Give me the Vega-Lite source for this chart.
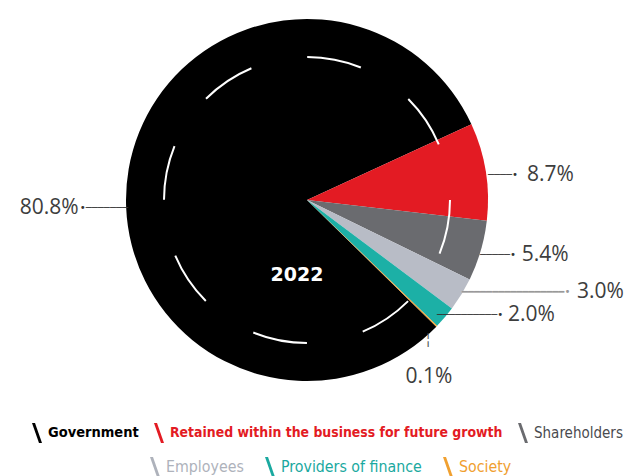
{
  "$schema": "https://vega.github.io/schema/vega-lite/v6.json",
  "width": 614,
  "height": 400,
  "autosize": {"type": "none"},
  "padding": {"left": 0, "top": 0, "right": 16, "bottom": 76},
  "background": "white",
  "config": {"view": {"stroke": null}},
  "datasets": {
    "slices": [
      {"category": "Government", "share": 0.808},
      {"category": "Retained within the business for future growth", "share": 0.087},
      {"category": "Shareholders", "share": 0.054},
      {"category": "Employees", "share": 0.030},
      {"category": "Providers of finance", "share": 0.020},
      {"category": "Society", "share": 0.001}
    ],
    "year": [{"year": "2022"}]
  },
  "data": {"name": "slices"},
  "layer": [
    {
      "mark": {"type": "arc", "outerRadius": 181, "innerRadius": 0},
      "encoding": {
        "theta": {"field": "share", "type": "quantitative", "stack": true, "scale": {"range": [2.3457, 8.6289]}},
        "order": {"field": "share", "type": "quantitative", "sort": "descending"},
        "fill": {
          "field": "category", "type": "nominal",
          "scale": {
            "domain": ["Government", "Retained within the business for future growth", "Shareholders", "Employees", "Providers of finance", "Society"],
            "range": ["#000000", "#e31b23", "#6a6b6f", "#b8bcc6", "#1cb0a6", "#f0a030"]
          },
          "legend": {
            "values": ["Government", "Retained within the business for future growth", "Shareholders"],
            "title": null, "orient": "none", "legendX": 27, "legendY": 423,
            "direction": "horizontal", "padding": 0,
            "symbolType": "M-0.5,-1L-0.2,-1L0.5,1L0.2,1Z", "symbolSize": 400, "symbolStrokeWidth": 0,
            "labelFont": "'DejaVu Sans Condensed', 'Liberation Sans Narrow', sans-serif",
            "labelFontSize": {"expr": "datum.value === 'Government' ? 14.5 : datum.value === 'Shareholders' ? 15 : 13.9"},
            "labelOffset": 1, "columnPadding": 10, "labelLimit": 0,
            "labelColor": {"expr": "datum.value === 'Shareholders' ? '#4a4b4f' : scale('fill', datum.value)"},
            "labelFontWeight": {"expr": "datum.value === 'Shareholders' ? 'normal' : 'bold'"}
          }
        }
      }
    },
    {
      "transform": [{"filter": {"field": "category", "oneOf": ["Employees", "Providers of finance", "Society"]}}],
      "mark": {"type": "point", "filled": true, "opacity": 0, "size": 1},
      "encoding": {
        "color": {
          "field": "category", "type": "nominal",
          "scale": {
            "domain": ["Employees", "Providers of finance", "Society"],
            "range": ["#aeb2bb", "#1aa9a0", "#f0a030"]
          },
          "legend": {
            "title": null, "orient": "none", "legendX": 145, "legendY": 457,
            "direction": "horizontal", "padding": 0, "symbolOpacity": 1,
            "symbolType": "M-0.5,-1L-0.2,-1L0.5,1L0.2,1Z", "symbolSize": 400, "symbolStrokeWidth": 0,
            "labelFont": "'DejaVu Sans Condensed', 'Liberation Sans Narrow', sans-serif",
            "labelFontSize": 15.8, "labelOffset": 1, "columnPadding": 16, "labelLimit": 0,
            "labelColor": {"expr": "scale('color', datum.value)"}
          }
        }
      }
    },
    {
      "data": {"name": "year"},
      "mark": {"type": "point", "shape": "circle", "filled": false, "size": 81796, "stroke": "white", "strokeWidth": 2, "strokeDash": [55, 57.3], "opacity": 1},
      "encoding": {}
    },
    {
      "data": {"name": "year"},
      "mark": {"type": "text", "dx": -10, "dy": 75, "font": "DejaVu Sans", "fontWeight": "bold", "fontSize": 19, "color": "white", "align": "center", "baseline": "middle"},
      "encoding": {"text": {"field": "year", "type": "nominal"}}
    },
    {
      "mark": {"type": "text", "radius": 181, "align": "right", "baseline": "middle", "dx": -0.7, "dy": 39, "font": "DejaVu Sans Mono", "fontSize": 10, "color": "#333333"},
      "encoding": {
        "theta": {"field": "share", "type": "quantitative", "stack": true},
        "order": {"field": "share", "type": "quantitative", "sort": "descending"},
        "text": {"condition": {"test": "datum.category === 'Government'", "value": "•───────"}, "value": ""}
      }
    },
    {
      "mark": {"type": "text", "radius": 181, "align": "right", "baseline": "middle", "dx": -50, "dy": 39, "font": "Open Sans", "fontSize": 21, "color": "#3d3d3d"},
      "encoding": {
        "theta": {"field": "share", "type": "quantitative", "stack": true},
        "order": {"field": "share", "type": "quantitative", "sort": "descending"},
        "text": {"condition": {"test": "datum.category === 'Government'", "field": "share", "type": "quantitative", "format": ".1%"}, "value": ""}
      }
    },
    {
      "mark": {"type": "text", "radius": 181, "align": "left", "baseline": "middle", "dx": 2.3, "dy": 3.5, "font": "DejaVu Sans Mono", "fontSize": 10, "color": "#333333"},
      "encoding": {
        "theta": {"field": "share", "type": "quantitative", "stack": true},
        "order": {"field": "share", "type": "quantitative", "sort": "descending"},
        "text": {"condition": {"test": "datum.category === 'Retained within the business for future growth'", "value": "────•"}, "value": ""}
      }
    },
    {
      "mark": {"type": "text", "radius": 181, "align": "left", "baseline": "middle", "dx": 41.3, "dy": 3.5, "font": "Open Sans", "fontSize": 21, "color": "#3d3d3d"},
      "encoding": {
        "theta": {"field": "share", "type": "quantitative", "stack": true},
        "order": {"field": "share", "type": "quantitative", "sort": "descending"},
        "text": {"condition": {"test": "datum.category === 'Retained within the business for future growth'", "field": "share", "type": "quantitative", "format": ".1%"}, "value": ""}
      }
    },
    {
      "mark": {"type": "text", "radius": 181, "align": "left", "baseline": "middle", "dx": -0.7, "dy": 4, "font": "DejaVu Sans Mono", "fontSize": 10, "color": "#333333"},
      "encoding": {
        "theta": {"field": "share", "type": "quantitative", "stack": true},
        "order": {"field": "share", "type": "quantitative", "sort": "descending"},
        "text": {"condition": {"test": "datum.category === 'Shareholders'", "value": "─────•"}, "value": ""}
      }
    },
    {
      "mark": {"type": "text", "radius": 181, "align": "left", "baseline": "middle", "dx": 41, "dy": 4, "font": "Open Sans", "fontSize": 21, "color": "#3d3d3d"},
      "encoding": {
        "theta": {"field": "share", "type": "quantitative", "stack": true},
        "order": {"field": "share", "type": "quantitative", "sort": "descending"},
        "text": {"condition": {"test": "datum.category === 'Shareholders'", "field": "share", "type": "quantitative", "format": ".1%"}, "value": ""}
      }
    },
    {
      "mark": {"type": "text", "radius": 181, "align": "left", "baseline": "middle", "dx": 0.6, "dy": -2.4, "font": "DejaVu Sans Mono", "fontSize": 10, "color": "#999999"},
      "encoding": {
        "theta": {"field": "share", "type": "quantitative", "stack": true},
        "order": {"field": "share", "type": "quantitative", "sort": "descending"},
        "text": {"condition": {"test": "datum.category === 'Employees'", "value": "━━━━━━━━━━━━━━━━━•"}, "value": ""}
      }
    },
    {
      "mark": {"type": "text", "radius": 181, "align": "left", "baseline": "middle", "dx": 115.6, "dy": -2.4, "font": "Open Sans", "fontSize": 21, "color": "#3d3d3d"},
      "encoding": {
        "theta": {"field": "share", "type": "quantitative", "stack": true},
        "order": {"field": "share", "type": "quantitative", "sort": "descending"},
        "text": {"condition": {"test": "datum.category === 'Employees'", "field": "share", "type": "quantitative", "format": ".1%"}, "value": ""}
      }
    },
    {
      "mark": {"type": "text", "radius": 181, "align": "left", "baseline": "middle", "dx": -7.8, "dy": -2.3, "font": "DejaVu Sans Mono", "fontSize": 10, "color": "#333333"},
      "encoding": {
        "theta": {"field": "share", "type": "quantitative", "stack": true},
        "order": {"field": "share", "type": "quantitative", "sort": "descending"},
        "text": {"condition": {"test": "datum.category === 'Providers of finance'", "value": "──────────•"}, "value": ""}
      }
    },
    {
      "mark": {"type": "text", "radius": 181, "align": "left", "baseline": "middle", "dx": 63.2, "dy": -2.3, "font": "Open Sans", "fontSize": 21, "color": "#3d3d3d"},
      "encoding": {
        "theta": {"field": "share", "type": "quantitative", "stack": true},
        "order": {"field": "share", "type": "quantitative", "sort": "descending"},
        "text": {"condition": {"test": "datum.category === 'Providers of finance'", "field": "share", "type": "quantitative", "format": ".1%"}, "value": ""}
      }
    },
    {
      "mark": {"type": "text", "radius": 181, "align": "center", "baseline": "middle", "dx": -8.7, "dy": 15, "font": "DejaVu Sans Mono", "fontSize": 14, "color": "#555555"},
      "encoding": {
        "theta": {"field": "share", "type": "quantitative", "stack": true},
        "order": {"field": "share", "type": "quantitative", "sort": "descending"},
        "text": {"condition": {"test": "datum.category === 'Society'", "value": "╎"}, "value": ""}
      }
    },
    {
      "mark": {"type": "text", "radius": 181, "align": "center", "baseline": "middle", "dx": -7.7, "dy": 51, "font": "Open Sans", "fontSize": 21, "color": "#3d3d3d"},
      "encoding": {
        "theta": {"field": "share", "type": "quantitative", "stack": true},
        "order": {"field": "share", "type": "quantitative", "sort": "descending"},
        "text": {"condition": {"test": "datum.category === 'Society'", "field": "share", "type": "quantitative", "format": ".1%"}, "value": ""}
      }
    }
  ]
}
